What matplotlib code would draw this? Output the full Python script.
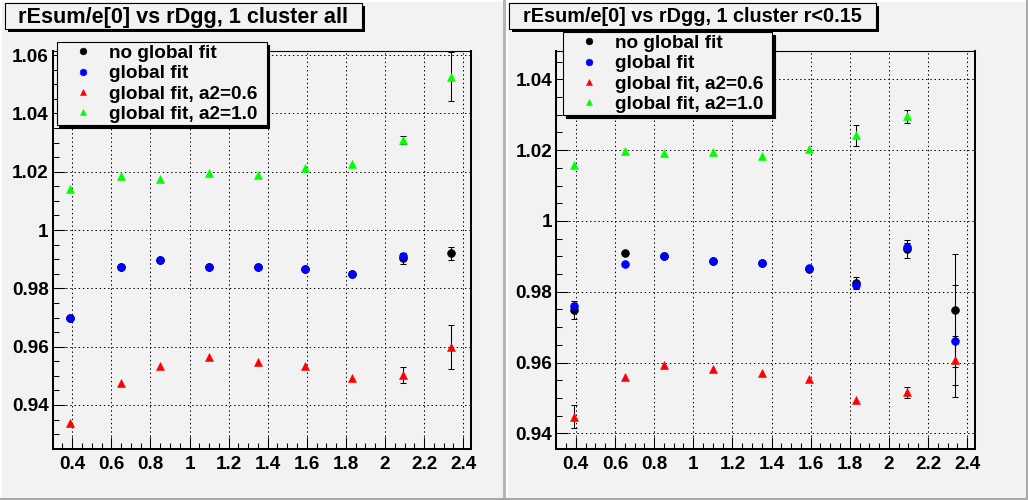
import numpy as np
import matplotlib
matplotlib.use("Agg")
import matplotlib.pyplot as plt
from matplotlib.patches import Rectangle
from matplotlib.ticker import MultipleLocator, FormatStrFormatter

# ---------------- data ----------------
x_centers = [0.39, 0.65, 0.85, 1.10, 1.35, 1.59, 1.83, 2.09, 2.34]
nan = np.nan

# panel 1: "1 cluster all"  (nan = error bar hidden inside the marker)
all_nofit = [0.9698, 0.9872, 0.9896, 0.9872, 0.9872, 0.9866, 0.9849, 0.9903, 0.9920]
all_nofit_err = [0.0003, 0.0003, 0.0003, 0.0003, 0.0003, 0.0003, 0.0003, 0.0019, 0.0022]
all_fit = [0.9698, 0.9872, 0.9896, 0.9872, 0.9872, 0.9866, 0.9849, 0.9911, nan]
all_fit_err = [0.0003, 0.0003, 0.0003, 0.0003, 0.0003, 0.0003, 0.0003, 0.0010, nan]
all_a06 = [0.9337, 0.9477, 0.9532, 0.9566, 0.9546, 0.9532, 0.9494, 0.9503, 0.9600]
all_a06_err = [nan, nan, nan, nan, nan, nan, nan, 0.0027, 0.0075]
all_a10 = [1.0140, 1.0187, 1.0175, 1.0195, 1.0188, 1.0212, 1.0226, 1.0309, 1.0525]
all_a10_err = [nan, nan, nan, nan, nan, nan, nan, 0.0014, 0.0084]

# panel 2: "1 cluster r<0.15"
r15_nofit = [0.9748, 0.9909, 0.9901, 0.9887, 0.9881, 0.9864, 0.9825, 0.9921, 0.9748]
r15_nofit_err = [0.0025, 0.0003, 0.0003, 0.0003, 0.0003, 0.0003, 0.0017, 0.0025, 0.0160]
r15_fit = [0.9761, 0.9878, 0.9901, 0.9887, 0.9881, 0.9867, 0.9819, 0.9926, 0.9661]
r15_fit_err = [0.0008, 0.0003, 0.0003, 0.0003, 0.0003, 0.0003, 0.0008, 0.0012, 0.0158]
r15_a06 = [0.9447, 0.9560, 0.9593, 0.9583, 0.9570, 0.9555, 0.9495, 0.9516, 0.9606]
r15_a06_err = [0.0032, nan, nan, nan, nan, nan, nan, 0.0016, 0.0069]
r15_a10 = [1.0159, 1.0197, 1.0192, 1.0195, 1.0183, 1.0203, 1.0242, 1.0296, nan]
r15_a10_err = [nan, nan, nan, nan, nan, nan, 0.0029, 0.0018, nan]

titles = ["rEsum/e[0] vs rDgg, 1 cluster all", "rEsum/e[0] vs rDgg, 1 cluster r<0.15"]
labels = ["no global fit", "global fit", "global fit, a2=0.6", "global fit, a2=1.0"]
colors = ["#000000", "#0000ff", "#ff0000", "#00ff00"]
markers = ["o", "o", "^", "^"]

panels = [
    dict(series=[(all_nofit, all_nofit_err), (all_fit, all_fit_err),
                 (all_a06, all_a06_err), (all_a10, all_a10_err)],
         ylim=(0.9248, 1.0614)),
    dict(series=[(r15_nofit, r15_nofit_err), (r15_fit, r15_fit_err),
                 (r15_a06, r15_a06_err), (r15_a10, r15_a10_err)],
         ylim=(0.9355, 1.0481)),
]

# ---------------- layout (pixels) ----------------
W, H = 1028, 500
BG = "#f2f2f2"
FONT = "Liberation Sans"
plt.rcParams["font.family"] = [FONT, "DejaVu Sans"]
plt.rcParams["font.weight"] = "bold"

def fx(px):
    return px / W

def fy(py):
    return 1 - py / H

fig = plt.figure(figsize=(W / 100, H / 100), dpi=100, facecolor=BG)

def frect(x0, y0, x1, y1, color, z=0):
    fig.add_artist(Rectangle((fx(x0), fy(y1)), fx(x1) - fx(x0), fy(y0) - fy(y1),
                             transform=fig.transFigure, facecolor=color,
                             edgecolor="none", zorder=z))

# pad bevels
frect(0, 0, 1028, 1.5, "white")
frect(0, 0, 1.5, 500, "white")
frect(505.5, 0, 508, 500, "white")
frect(503, 0, 505.5, 498, "#b4b4b4")
frect(1025.5, 0, 1028, 500, "#a8a8a8")
frect(0, 497.5, 1028, 500, "#a8a8a8")

axes_px = [(52.7, 51.0, 471.0, 449.3), (556.3, 50.7, 975.0, 449.3)]
title_px = [(5.3, 2.7, 361.7, 29.3, 15.6), (509.3, 2.7, 875.7, 29.3, 14.3)]
legend_px = [(56.7, 42.3, 266.7, 141.7), (563.0, 32.3, 772.3, 131.7)]

for i, p in enumerate(panels):
    x0, y0, x1, y1 = axes_px[i]
    ax = fig.add_axes([fx(x0), fy(y1), fx(x1) - fx(x0), fy(y0) - fy(y1)])
    ax.set_facecolor(BG)
    ax.set_xlim(0.30, 2.44)
    ax.set_ylim(*p["ylim"])
    ax.xaxis.set_major_locator(MultipleLocator(0.2))
    ax.xaxis.set_minor_locator(MultipleLocator(0.05))
    ax.yaxis.set_major_locator(MultipleLocator(0.02))
    ax.yaxis.set_minor_locator(MultipleLocator(0.005))
    ax.xaxis.set_major_formatter(FormatStrFormatter("%g"))
    ax.yaxis.set_major_formatter(FormatStrFormatter("%g"))
    ax.tick_params(which="both", direction="in", top=False, right=False,
                   width=0.75, colors="black", labelsize=13.6)
    ax.tick_params(which="major", length=8.6)
    ax.tick_params(which="minor", length=4.3)
    ax.tick_params(axis="x", which="major", pad=4.6)
    ax.tick_params(axis="y", which="major", pad=3.0)
    ax.grid(True, which="major", color="black", linewidth=0.72,
            linestyle=(0, (1.4, 2.8)))
    ax.set_axisbelow(True)
    for side in ["left", "bottom", "right"]:
        ax.spines[side].set_linewidth(1.45)
    ax.spines["top"].set_linewidth(0.8)

    for k, (vals, errs) in enumerate(p["series"]):
        z = 3 + k
        ax.errorbar(x_centers, vals, yerr=errs, fmt="none", ecolor="black",
                    elinewidth=0.75, capsize=2.3, capthick=0.75, zorder=z)
        ax.plot(x_centers, vals, linestyle="none", marker=markers[k],
                color=colors[k], markersize=5.7, markeredgewidth=0.4,
                markeredgecolor=colors[k], label=labels[k], zorder=z + 0.5)

    lx0, ly0, lx1, ly1 = legend_px[i]
    leg = ax.legend(loc="upper left",
                    bbox_to_anchor=(fx(lx0), fy(ly1), fx(lx1) - fx(lx0), fy(ly0) - fy(ly1)),
                    bbox_transform=fig.transFigure, mode="expand",
                    borderaxespad=0, borderpad=0.12, labelspacing=0.16,
                    handlelength=2.5, handletextpad=0.12, markerscale=0.85,
                    prop=dict(family=FONT, weight="bold", size=13.7),
                    frameon=True, fancybox=False, framealpha=1,
                    facecolor=BG, edgecolor="black",
                    shadow=dict(color="black", alpha=1))
    leg.get_frame().set_linewidth(0.8)

    # title box with shadow
    tx0, ty0, tx1, ty1, tfs = title_px[i]
    frect(tx0 + 3, ty0 + 3, tx1 + 3, ty1 + 3, "black", z=5)
    fig.add_artist(Rectangle((fx(tx0), fy(ty1)), fx(tx1) - fx(tx0), fy(ty0) - fy(ty1),
                             transform=fig.transFigure, facecolor=BG,
                             edgecolor="black", linewidth=0.8, zorder=6))
    fig.text(fx((tx0 + tx1) / 2), fy((ty0 + ty1) / 2 + 1), titles[i],
             ha="center", va="center", family=FONT, weight="bold",
             fontsize=tfs, zorder=7)

fig.savefig("out.png", dpi=100, facecolor=BG)
